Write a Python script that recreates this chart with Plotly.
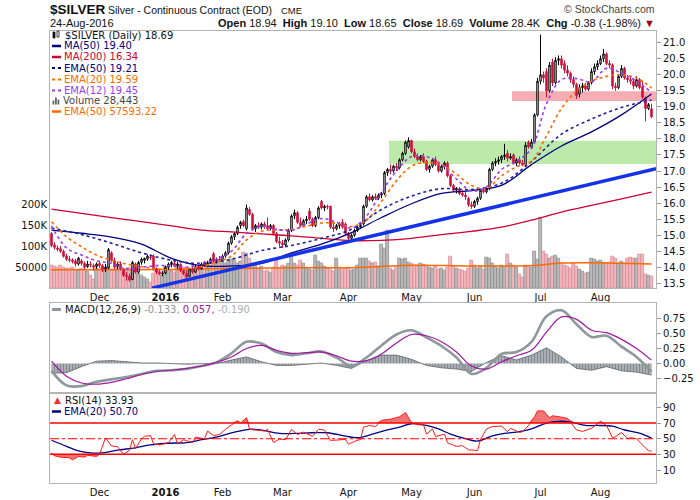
import numpy as np
import pandas as pd
import plotly.graph_objects as go

# trading days on the chart (6-Nov-2015 .. 24-Aug-2016)
holidays = ["2015-11-26", "2015-12-25", "2016-01-01", "2016-01-18",
            "2016-02-15", "2016-03-25", "2016-05-30", "2016-07-04"]
days = pd.bdate_range("2015-11-06", "2016-08-24")
days = days[~days.isin(pd.to_datetime(holidays))]

# daily candles
opens = [
    15.05, 14.70, 14.60, 14.58, 14.50, 14.35, 14.25, 14.22, 14.20, 14.10, 14.20, 14.12, 14.02, 14.10, 14.05, 14.02,
    14.12, 14.05, 13.95, 13.98, 14.45, 14.20, 14.02, 14.10, 13.92, 13.75, 13.72, 13.62, 14.10, 13.85, 14.15, 14.22,
    14.25, 14.32, 14.35, 13.95, 13.85, 13.80,
    13.82, 14.00, 14.08, 14.12, 14.05, 14.08, 13.90, 13.80, 13.72, 13.95, 13.85, 14.02, 13.95, 14.10, 14.05, 14.15,
    14.42, 14.20, 14.25,
    14.22, 14.35, 14.45, 14.75, 14.95, 15.05, 15.30, 15.42, 15.20, 15.80, 15.65, 15.20, 15.30, 15.25, 15.35, 15.30,
    15.20, 15.30, 15.05, 14.80,
    14.75, 14.70, 14.85, 15.15, 15.60, 15.70, 15.40, 15.30, 15.45, 15.75, 15.50, 15.30, 15.55, 16.05, 15.85, 15.90,
    15.90, 15.25, 15.20, 15.30, 15.40, 15.35,
    15.05, 14.90, 15.00, 15.15, 15.25, 15.35, 15.90, 16.20, 16.10, 16.20, 16.15, 16.25, 16.30, 16.95, 17.05, 17.00,
    17.15, 17.10, 17.35, 17.55, 17.75,
    17.95, 17.60, 17.45, 17.35, 17.45, 17.30, 17.05, 17.15, 17.35, 17.20, 17.00, 17.15, 17.25, 16.85, 16.55, 16.40,
    16.45, 16.30, 16.25, 16.15, 15.95,
    15.90, 16.05, 16.15, 16.40, 16.35, 16.45, 17.05, 17.25, 17.30, 17.35, 17.45, 17.55, 17.40, 17.50, 17.25, 17.35,
    17.25, 17.20, 17.90, 17.75, 17.90, 18.75,
    19.80, 20.00, 20.10, 19.50, 20.40, 19.75, 20.45, 20.50, 20.35, 20.15, 20.05, 19.85, 19.70, 19.40, 19.60, 19.65,
    19.55, 19.75, 20.10, 20.25,
    20.35, 20.50, 20.65, 20.35, 20.30, 19.65, 19.60, 19.95, 20.20, 19.90, 19.85, 19.80, 19.65, 19.85, 19.62, 19.28,
    18.95, 18.94,
]
highs = [
    15.10, 14.78, 14.68, 14.66, 14.55, 14.42, 14.35, 14.28, 14.26, 14.32, 14.26, 14.18, 14.20, 14.18, 14.12, 14.15,
    14.20, 14.10, 14.10, 14.60, 14.50, 14.30, 14.15, 14.18, 13.98, 13.85, 13.80, 14.20, 14.15, 14.20, 14.30, 14.30,
    14.40, 14.40, 14.40, 14.00, 13.92, 13.88,
    14.05, 14.15, 14.20, 14.20, 14.18, 14.12, 13.95, 13.90, 13.98, 14.05, 14.08, 14.12, 14.15, 14.20, 14.20, 14.30,
    14.48, 14.30, 14.35,
    14.40, 14.50, 14.80, 15.00, 15.10, 15.30, 15.45, 15.48, 15.95, 15.88, 15.70, 15.35, 15.40, 15.40, 15.42, 15.55,
    15.35, 15.35, 15.10, 14.95,
    14.85, 14.90, 15.20, 15.65, 15.80, 15.75, 15.55, 15.50, 15.60, 15.85, 15.55, 15.60, 15.90, 16.10, 15.95, 15.95,
    15.92, 15.35, 15.35, 15.40, 15.50, 15.40,
    15.10, 15.05, 15.20, 15.30, 15.38, 15.95, 16.25, 16.30, 16.25, 16.30, 16.30, 16.35, 17.00, 17.10, 17.20, 17.20,
    17.25, 17.40, 17.60, 17.95, 18.05,
    17.98, 17.70, 17.55, 17.50, 17.55, 17.35, 17.20, 17.40, 17.45, 17.30, 17.20, 17.30, 17.30, 16.90, 16.60, 16.50,
    16.50, 16.40, 16.35, 16.20, 16.05,
    16.10, 16.20, 16.45, 16.50, 16.50, 17.10, 17.30, 17.40, 17.45, 17.50, 17.85, 17.65, 17.55, 17.55, 17.40, 17.45,
    17.35, 17.90, 17.95, 18.00, 18.80, 19.90,
    21.25, 20.10, 20.20, 20.40, 20.50, 20.55, 20.60, 20.60, 20.45, 20.30, 20.10, 19.95, 19.75, 19.70, 19.75, 19.75,
    19.80, 20.20, 20.35, 20.45,
    20.60, 20.80, 20.70, 20.45, 20.35, 19.75, 20.00, 20.30, 20.25, 20.00, 19.95, 19.90, 19.95, 19.90, 19.80, 19.32,
    19.12, 19.10,
]
lows = [
    14.62, 14.55, 14.50, 14.45, 14.30, 14.20, 14.15, 14.12, 14.02, 14.05, 14.05, 13.95, 13.98, 14.00, 13.90, 13.95,
    13.98, 13.85, 13.85, 13.95, 14.15, 13.95, 13.95, 13.90, 13.70, 13.58, 13.55, 13.60, 13.80, 13.80, 14.08, 14.12,
    14.20, 14.22, 13.90, 13.78, 13.75, 13.72,
    13.78, 13.92, 14.00, 14.00, 13.95, 13.85, 13.75, 13.65, 13.70, 13.80, 13.82, 13.90, 13.92, 14.00, 14.00, 14.10,
    14.15, 14.12, 14.15,
    14.18, 14.30, 14.40, 14.70, 14.85, 15.00, 15.20, 15.25, 15.15, 15.60, 15.15, 15.10, 15.20, 15.18, 15.20, 15.15,
    15.15, 15.00, 14.75, 14.65,
    14.60, 14.65, 14.80, 15.10, 15.50, 15.35, 15.25, 15.25, 15.35, 15.45, 15.25, 15.25, 15.50, 15.80, 15.75, 15.80,
    15.20, 15.10, 15.15, 15.20, 15.20, 15.00,
    14.85, 14.85, 14.95, 15.10, 15.20, 15.30, 15.85, 16.05, 16.05, 16.10, 16.10, 16.15, 16.25, 16.85, 16.90, 16.95,
    17.00, 17.05, 17.30, 17.50, 17.70,
    17.55, 17.40, 17.30, 17.30, 17.25, 17.00, 16.95, 17.10, 17.15, 16.95, 16.95, 17.05, 16.80, 16.50, 16.35, 16.30,
    16.25, 16.20, 16.10, 15.88, 15.82,
    15.85, 15.95, 16.10, 16.30, 16.30, 16.40, 17.00, 17.15, 17.20, 17.25, 17.35, 17.30, 17.35, 17.20, 17.15, 17.20,
    17.15, 17.15, 17.70, 17.70, 17.85, 18.70,
    19.70, 19.75, 19.30, 19.45, 19.65, 19.70, 20.30, 20.20, 20.05, 19.95, 19.75, 19.60, 19.25, 19.30, 19.45, 19.50,
    19.50, 19.70, 20.00, 20.15,
    20.30, 20.40, 20.30, 20.20, 19.55, 19.50, 19.55, 19.90, 19.85, 19.75, 19.70, 19.55, 19.60, 19.55, 19.25, 18.55,
    18.90, 18.65,
]
closes = [
    14.68, 14.62, 14.56, 14.50, 14.34, 14.25, 14.22, 14.18, 14.10, 14.28, 14.12, 14.00, 14.10, 14.08, 14.00, 14.10,
    14.05, 13.95, 14.00, 14.55, 14.20, 14.00, 14.10, 13.95, 13.75, 13.72, 13.60, 14.15, 13.85, 14.15, 14.25, 14.28,
    14.35, 14.30, 13.95, 13.85, 13.80, 13.82,
    14.00, 14.10, 14.15, 14.05, 14.10, 13.90, 13.80, 13.70, 13.95, 13.85, 14.02, 13.95, 14.10, 14.05, 14.15, 14.25,
    14.18, 14.25, 14.22,
    14.35, 14.45, 14.75, 14.95, 15.05, 15.25, 15.40, 15.30, 15.85, 15.65, 15.20, 15.30, 15.25, 15.35, 15.28, 15.20,
    15.30, 15.05, 14.80, 14.75,
    14.70, 14.85, 15.15, 15.60, 15.70, 15.40, 15.30, 15.45, 15.50, 15.50, 15.30, 15.55, 15.85, 15.85, 15.90, 15.88,
    15.25, 15.20, 15.30, 15.35, 15.25, 15.05,
    14.90, 15.00, 15.15, 15.25, 15.30, 15.90, 16.20, 16.10, 16.20, 16.15, 16.25, 16.30, 16.95, 17.05, 17.00, 17.15,
    17.10, 17.35, 17.55, 17.90, 17.95,
    17.60, 17.45, 17.35, 17.45, 17.30, 17.05, 17.15, 17.35, 17.20, 17.00, 17.15, 17.25, 16.85, 16.55, 16.40, 16.45,
    16.30, 16.25, 16.20, 15.95, 15.90,
    16.05, 16.15, 16.40, 16.35, 16.45, 17.05, 17.25, 17.30, 17.35, 17.45, 17.50, 17.40, 17.45, 17.25, 17.35, 17.25,
    17.20, 17.80, 17.75, 17.90, 18.75, 19.80,
    20.00, 19.90, 19.50, 20.30, 19.75, 20.45, 20.50, 20.30, 20.15, 20.05, 19.85, 19.70, 19.35, 19.60, 19.65, 19.55,
    19.75, 20.10, 20.25, 20.35,
    20.50, 20.65, 20.35, 20.30, 19.65, 19.60, 19.95, 20.20, 19.90, 19.85, 19.80, 19.65, 19.85, 19.60, 19.30, 18.95,
    19.07, 18.69,
]
volume_k = [
    55, 52, 50, 54, 50, 46, 48, 50, 44, 42, 48, 45, 40, 31, 20, 48,
    45, 50, 48, 52, 45, 42, 46, 40, 38, 48, 50, 40, 42, 36, 30, 26, 22, 14, 36, 45, 40, 30,
    52, 45, 40, 38, 55, 57, 50, 46, 44, 40, 42, 48, 52, 45, 50, 55, 62, 60, 58,
    66, 60, 64, 68, 67, 60, 64, 86, 84, 72, 60, 55, 48, 52, 40, 42, 38, 50, 66, 48,
    55, 52, 60, 83, 60, 55, 67, 58, 50, 45, 42, 77, 65, 60, 52, 48, 45, 40, 72, 50, 45, 48,
    50, 42, 45, 55, 72, 70, 71, 65, 58, 62, 53, 105, 95, 137, 48, 42, 50, 70, 68, 72, 62,
    58, 55, 52, 60, 56, 54, 50, 46, 52, 44, 48, 42, 50, 75, 52, 48, 45, 42, 40, 46, 67,
    55, 48, 52, 45, 74, 70, 58, 52, 48, 55, 50, 81, 60, 55, 50, 32, 25, 55, 52, 50, 87, 68,
    169, 87, 80, 72, 75, 78, 70, 60, 55, 52, 48, 58, 52, 45, 40, 35, 38, 70, 68, 65,
    66, 62, 58, 62, 75, 70, 60, 65, 58, 72, 74, 70, 72, 80, 80, 33, 30, 28.443,
]

ma_idx = list(range(0, 201, 10))
ma50 = [15.16, 15.06, 14.94, 14.72, 14.28, 14.05, 14.04, 14.12, 14.45, 14.72, 15.08,
        15.55, 15.98, 16.30, 16.39, 16.55, 17.20, 17.78, 18.22, 18.75, 19.40]
ma200 = [15.81, 15.68, 15.55, 15.42, 15.29, 15.16, 15.10, 15.04, 14.98, 14.90, 14.83,
         14.84, 14.90, 15.02, 15.12, 15.25, 15.47, 15.72, 15.93, 16.13, 16.34]
ema50 = [15.22, 15.02, 14.75, 14.45, 14.22, 14.12, 14.25, 14.52, 14.68, 14.90, 15.18,
         15.80, 16.22, 16.45, 16.42, 16.62, 17.30, 18.15, 18.62, 18.98, 19.21]
ema_idx = list(range(0, 201, 5))
ema20 = [15.42, 14.95, 14.64, 14.38, 14.22, 14.10, 14.02, 13.95, 13.92, 13.95, 14.02,
         14.15, 14.35, 14.85, 15.12, 15.16, 15.18, 15.28, 15.38, 15.37, 15.27, 15.47,
         16.05, 16.70, 17.15, 17.27, 17.20, 16.90, 16.55, 16.45, 16.85, 17.13, 17.30,
         18.10, 18.95, 19.50, 19.80, 19.95, 20.00, 19.90, 19.59]
ema12 = [15.29, 14.60, 14.38, 14.20, 14.12, 13.95, 14.00, 14.05, 14.05, 14.00, 14.12,
         14.25, 14.50, 15.05, 15.27, 15.18, 15.15, 15.35, 15.52, 15.40, 15.22, 15.60,
         16.35, 17.00, 17.45, 17.45, 17.20, 16.75, 16.38, 16.50, 17.05, 17.30, 17.70,
         19.10, 19.85, 19.88, 19.78, 20.20, 20.05, 19.80, 19.45]
vol_ema_idx = [0, 20, 40, 60, 80, 100, 120, 140, 160, 170, 180, 200]
vol_ema50_k = [44, 44, 45, 47, 49, 49, 55, 53, 54, 60, 61, 57.59322]

macd_idx = list(range(0, 201, 5))
macd = [-0.12, -0.36, -0.37, -0.30, -0.26, -0.22, -0.17, -0.12, -0.11, -0.09, -0.04,
        0.02, 0.17, 0.36, 0.33, 0.19, 0.14, 0.17, 0.20, 0.10, -0.04, 0.10, 0.30, 0.48,
        0.55, 0.43, 0.29, 0.10, -0.17, -0.07, 0.16, 0.19, 0.36, 0.78, 0.88, 0.65, 0.44,
        0.46, 0.28, 0.11, -0.133]
macd_signal = [0.04, -0.21, -0.32, -0.34, -0.31, -0.25, -0.18, -0.13, -0.11, -0.08, -0.04,
               0.02, 0.11, 0.25, 0.30, 0.22, 0.17, 0.18, 0.19, 0.13, 0.04, 0.05, 0.16, 0.34,
               0.48, 0.46, 0.36, 0.19, -0.04, -0.09, 0.03, 0.13, 0.22, 0.52, 0.77, 0.73, 0.55,
               0.51, 0.40, 0.25, 0.057]

rsi_idx = [0, 1, 3, 6, 7, 9, 11, 12, 15, 16, 18, 20, 22, 23, 24, 26, 27, 28, 30, 31, 33, 34,
           36, 39, 41, 42, 44, 47, 48, 51, 52, 54, 56, 58, 60, 62, 63, 65, 66, 68, 71, 72,
           74, 76, 78, 80, 82, 84, 87, 89, 91, 93, 96, 98, 99, 101, 103, 104, 106, 108, 110,
           113, 116, 118, 120, 122, 124, 125, 127, 128, 131, 132, 135, 137, 139, 142, 143,
           145, 147, 150, 152, 153, 156, 157, 159, 161, 162, 164, 166, 167, 170, 172, 175,
           177, 180, 182, 183, 185, 187, 188, 190, 192, 193, 195, 197, 198, 199, 200]
rsi = [31.5, 28.2, 26.4, 25.6, 23.0, 27.4, 26.4, 28.7, 27.4, 30.0, 50.9, 40.7, 39.8, 35.3,
       30.0, 35.3, 48.7, 37.6, 49.6, 53.1, 54.0, 43.4, 42.0, 45.1, 55.3, 43.4, 48.7, 45.0,
       52.2, 49.6, 59.8, 54.0, 55.3, 62.0, 67.3, 73.1, 70.0, 76.7, 62.0, 61.0, 59.8, 62.0,
       45.0, 49.6, 48.7, 62.0, 55.3, 58.4, 53.0, 62.0, 61.0, 47.8, 48.7, 49.0, 43.0, 46.6,
       49.1, 64.7, 66.9, 65.6, 73.6, 74.9, 78.0, 83.3, 70.4, 67.8, 67.8, 55.8, 62.5, 52.7,
       55.8, 44.7, 40.2, 41.1, 35.8, 34.9, 49.1, 62.5, 65.6, 66.0, 58.9, 63.3, 58.0, 58.9,
       66.9, 78.0, 85.5, 85.5, 76.7, 79.3, 77.5, 75.8, 61.1, 59.3, 63.3, 69.1, 72.2, 66.9,
       51.3, 52.7, 58.0, 50.0, 51.3, 50.0, 41.1, 38.0, 34.9, 33.93]
rsi_ema_idx = [0, 5, 9, 13, 17, 22, 28, 33, 39, 45, 50, 56, 61, 66, 70, 76, 81, 87, 92, 98,
               102, 107, 111, 116, 120, 125, 129, 133, 138, 142, 147, 151, 156, 160, 165,
               169, 173, 178, 182, 187, 191, 196, 200]
rsi_ema20 = [48.0, 40.3, 34.4, 31.8, 31.8, 35.3, 38.4, 42.0, 44.2, 45.0, 48.7, 53.1, 58.4,
             62.0, 61.0, 56.7, 56.7, 57.6, 57.6, 53.3, 51.3, 55.8, 60.2, 64.7, 69.1, 66.9,
             62.5, 55.8, 50.0, 46.9, 53.6, 56.7, 58.9, 62.5, 70.0, 72.2, 71.3, 66.9, 66.9,
             66.0, 61.1, 57.1, 50.7]

# user annotations: trend line and the two zones (bar, low, high)
trend_idx = [33.5, 201.5]
trend_price = [13.35, 17.07]
support_zone = [112.5, 17.22, 17.94]
resist_zone = [153.5, 19.18, 19.49]

vol_ticks = [50000, 100000, 150000, 200000]
vol_ticktext = ["50000", "100K", "150K", "200K"]
price_ticks = [13.5 + 0.5 * i for i in range(16)]
macd_ticks = [-0.25, 0.0, 0.25, 0.5, 0.75]
rsi_ticks = [10, 30, 50, 70, 90]

# ---------------------------------------------------------------
x = np.arange(len(days))
o, h, l, c = map(np.array, (opens, highs, lows, closes))
vol = np.array(volume_k) * 1000
prev = np.r_[o[0], c[:-1]]
up = c >= prev
vol_fill = np.where(up, "#b9b9b9", "#f2b6be")
vol_edge = np.where(up, "#8a8a8a", "#d98791")

hist = np.array(macd) - np.array(macd_signal)
rsi_a = np.array(rsi)

# month ticks
month_start = [i for i in range(1, len(days)) if days[i].month != days[i - 1].month]
month_text = ["<b>2016</b>" if days[i].month == 1 else days[i].strftime("%b") for i in month_start]

W, H = 700, 500
px = lambda v: v / W
py = lambda v: 1 - v / H
X0, X1 = px(50), px(656)
MAIN = [py(288.3), py(30.5)]
MACD = [py(393.3), py(302.5)]
RSI = [py(483.3), py(393.3)]

FONT = "DejaVu Sans"
tick_font = dict(family=FONT, size=10, color="#111")
frame = dict(showline=True, mirror=True, linecolor="#b4b4b4", linewidth=1,
             showgrid=False, zeroline=False)

fig = go.Figure()

# volume (drawn behind price)
fig.add_trace(go.Bar(x=x, y=vol, marker=dict(color=vol_fill, line=dict(color=vol_edge, width=0.7)),
                     width=0.82, xaxis="x", yaxis="y"))
fig.add_trace(go.Scatter(x=vol_ema_idx, y=np.array(vol_ema50_k) * 1000, mode="lines",
                         line=dict(color="#ff6a00", width=1.5, shape="spline"), xaxis="x", yaxis="y"))

# price overlays
fig.add_trace(go.Scatter(x=ma_idx, y=ma200, mode="lines", line=dict(color="#cc0033", width=1.3, shape="spline"),
                         xaxis="x", yaxis="y4"))
fig.add_trace(go.Scatter(x=ma_idx, y=ma50, mode="lines", line=dict(color="#000080", width=1.3, shape="spline"),
                         xaxis="x", yaxis="y4"))
fig.add_trace(go.Scatter(x=ma_idx, y=ema50, mode="lines",
                         line=dict(color="#2020a0", width=1.6, dash="dot", shape="spline"), xaxis="x", yaxis="y4"))
fig.add_trace(go.Scatter(x=ema_idx, y=ema20, mode="lines",
                         line=dict(color="#ff6a00", width=1.6, dash="dot", shape="spline"), xaxis="x", yaxis="y4"))
fig.add_trace(go.Scatter(x=ema_idx, y=ema12, mode="lines",
                         line=dict(color="#9a3cf0", width=1.6, dash="dot", shape="spline"), xaxis="x", yaxis="y4"))
fig.add_trace(go.Scatter(x=trend_idx, y=trend_price, mode="lines", line=dict(color="#1433e8", width=3.5),
                         xaxis="x", yaxis="y4"))
fig.add_trace(go.Candlestick(x=x, open=o, high=h, low=l, close=c, xaxis="x", yaxis="y4", whiskerwidth=0,
                             increasing=dict(line=dict(color="#000000", width=1), fillcolor="#ffffff"),
                             decreasing=dict(line=dict(color="#d0103a", width=1), fillcolor="#d0103a")))

# MACD panel
fig.add_trace(go.Scatter(x=macd_idx, y=hist, mode="lines", fill="tozeroy", line=dict(color="#5f6468", width=0.8),
                         fillcolor="#a4aaaf",
                         fillpattern=dict(shape="|", size=3, solidity=0.35, fgcolor="#5f6468", bgcolor="#a9afb4"),
                         xaxis="x2", yaxis="y2"))
fig.add_trace(go.Scatter(x=macd_idx, y=macd, mode="lines", line=dict(color="#8e979c", width=2.6, shape="spline"),
                         xaxis="x2", yaxis="y2"))
fig.add_trace(go.Scatter(x=macd_idx, y=macd_signal, mode="lines", line=dict(color="#a01aa0", width=1.2, shape="spline"),
                         xaxis="x2", yaxis="y2"))

# RSI panel with overbought / oversold fills
for level, clip in ((70, np.maximum), (30, np.minimum)):
    fig.add_trace(go.Scatter(x=rsi_idx, y=[level] * len(rsi_idx), mode="lines", line=dict(width=0),
                             xaxis="x3", yaxis="y3"))
    fig.add_trace(go.Scatter(x=rsi_idx, y=clip(rsi_a, level), mode="lines", line=dict(width=0),
                             fill="tonexty", fillcolor="rgba(240,70,70,0.75)", xaxis="x3", yaxis="y3"))
fig.add_trace(go.Scatter(x=rsi_ema_idx, y=rsi_ema20, mode="lines", line=dict(color="#000080", width=1.3, shape="spline"),
                         xaxis="x3", yaxis="y3"))
fig.add_trace(go.Scatter(x=rsi_idx, y=rsi, mode="lines", line=dict(color="#ff1a1a", width=1),
                         xaxis="x3", yaxis="y3"))

shapes = [
    dict(type="rect", xref="x", yref="y4", x0=support_zone[0], x1=201.5, y0=support_zone[1], y1=support_zone[2],
         fillcolor="rgba(150,222,125,0.65)", line=dict(width=0), layer="below"),
    dict(type="rect", xref="x", yref="y4", x0=resist_zone[0], x1=201.5, y0=resist_zone[1], y1=resist_zone[2],
         fillcolor="rgba(240,128,138,0.65)", line=dict(width=0), layer="below"),
]
for lv, dash, wd in ((70, "solid", 1.5), (30, "solid", 1.5), (50, "dashdot", 1.1)):
    shapes.append(dict(type="line", xref="x3 domain", yref="y3", x0=0, x1=1, y0=lv, y1=lv,
                       line=dict(color="#ff0000", width=wd, dash=dash)))

annotations = []


def note(xp, yp, text, size=10, color="#000", anchor="left", family=FONT):
    annotations.append(dict(x=px(xp), y=py(yp), xref="paper", yref="paper", text=text, showarrow=False,
                            xanchor=anchor, yanchor="middle", font=dict(family=family, size=size, color=color)))


def icon_line(y, color, dash="solid", width=2.5):
    shapes.append(dict(type="line", xref="paper", yref="paper", x0=px(52), x1=px(61), y0=py(y), y1=py(y),
                       line=dict(color=color, width=width, dash=dash)))


# header
SANS = "Liberation Sans"
note(48, 9, "<b>$SILVER</b>", 13.5, "#111", family=SANS)
note(106, 9.5, "Silver - Continuous Contract (EOD)", 10.5, "#111", family=SANS)
note(279, 10, "CME", 9.5, "#111", family=SANS)
note(48, 23, "24-Aug-2016", 11, "#111", family=SANS)
note(657, 23, "<b>Open</b> 18.94  <b>High</b> 19.10  <b>Low</b> 18.65  <b>Close</b> 18.69  "
              "<b>Volume</b> 28.4K  <b>Chg</b> -0.38 (-1.98%) <span style='color:#a00020'>▼</span>",
     11, "#111", anchor="right", family=SANS)
note(657, 9, "© StockCharts.com", 10.5, "#444", anchor="right", family=SANS)

# main legend
rows = [35, 46, 57, 68, 79.5, 90.5, 101, 111.5]
shapes.append(dict(type="rect", xref="paper", yref="paper", x0=px(53), x1=px(55), y0=py(38), y1=py(32),
                   fillcolor="#111", line=dict(color="#111", width=0.8)))
shapes.append(dict(type="rect", xref="paper", yref="paper", x0=px(57), x1=px(59), y0=py(37), y1=py(31),
                   fillcolor="#fff", line=dict(color="#111", width=0.8)))
note(63, rows[0], "$SILVER (Daily) 18.69", 10, "#111")
icon_line(rows[1], "#000080")
note(62, rows[1], "MA(50) 19.40", 10, "#000080")
icon_line(rows[2], "#cc0033")
note(62, rows[2], "MA(200) 16.34", 10, "#cc0033")
icon_line(rows[3], "#000080", "dot", 2)
note(62, rows[3], "EMA(50) 19.21", 10, "#000080")
icon_line(rows[4], "#ff6a00", "dot", 2)
note(62, rows[4], "EMA(20) 19.59", 10, "#ff6a00")
icon_line(rows[5], "#9a3cf0", "dot", 2)
note(62, rows[5], "EMA(12) 19.45", 10, "#9a3cf0")
for bx, bh in ((52.5, 4), (55, 7), (57.5, 5)):
    shapes.append(dict(type="rect", xref="paper", yref="paper", x0=px(bx), x1=px(bx + 1.8),
                       y0=py(rows[6] + 3.5), y1=py(rows[6] + 3.5 - bh), fillcolor="#666", line=dict(width=0)))
note(61, rows[6], "Volume 28,443", 10, "#444")
icon_line(rows[7], "#ff6a00")
note(62, rows[7], "EMA(50) 57593.22", 10, "#ff6a00")

# MACD legend
icon_line(309.5, "#8e979c", width=3)
note(63, 309.5, "MACD(12,26,9) <span style='color:#8e979c'>-0.133,</span> "
                "<span style='color:#a01aa0'>0.057,</span> <span style='color:#a9b0b5'>-0.190</span>", 10, "#111")

# RSI legend
annotations.append(dict(x=px(52), y=py(400), xref="paper", yref="paper", text="▲", showarrow=False,
                        xanchor="left", yanchor="middle", font=dict(family=FONT, size=9, color="#ff2a2a")))
note(63, 400, "RSI(14) 33.93", 10, "#111")
icon_line(411.5, "#000080")
note(62, 411.5, "EMA(20) 50.70", 10, "#000080")

xcommon = dict(range=[-0.5, 201.5], domain=[X0, X1], tickvals=month_start, ticktext=month_text,
               ticks="", tickfont=tick_font, **frame)

fig.update_layout(
    width=W, height=H, margin=dict(l=0, r=0, t=0, b=0), autosize=False,
    paper_bgcolor="white", plot_bgcolor="white", showlegend=False, bargap=0,
    shapes=shapes, annotations=annotations,
    xaxis=dict(anchor="y", rangeslider=dict(visible=False), **xcommon),
    xaxis2=dict(anchor="y2", matches="x", showticklabels=False, **xcommon),
    xaxis3=dict(anchor="y3", matches="x", **xcommon),
    yaxis=dict(domain=MAIN, range=[0, 613810], side="left", tickvals=vol_ticks, ticktext=vol_ticktext,
               ticks="", tickfont=tick_font, **frame),
    yaxis4=dict(overlaying="y", side="right", range=[13.344, 21.38], tickvals=price_ticks,
                tickformat=".1f", ticks="outside", ticklen=4, tickcolor="#999", tickfont=tick_font,
                showgrid=False, zeroline=False, showline=False),
    yaxis2=dict(domain=MACD, range=[-0.49, 1.008], side="right", tickvals=macd_ticks, tickformat=".2f",
                ticks="outside", ticklen=4, tickcolor="#999", tickfont=tick_font, **frame),
    yaxis3=dict(domain=RSI, range=[-7, 108], side="right", tickvals=rsi_ticks,
                ticks="outside", ticklen=4, tickcolor="#999", tickfont=tick_font, **frame),
)

# the page's default body margin would shift the 700x500 figure off the window
fig.write_html("out.html", config={"displayModeBar": False},
               post_script="document.body.style.margin='0';document.body.style.overflow='hidden';")
